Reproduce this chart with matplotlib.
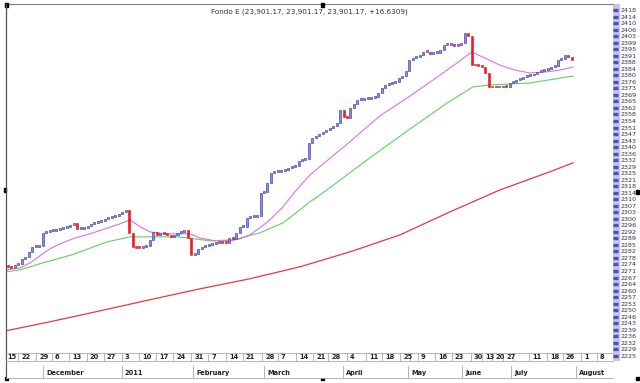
import matplotlib
matplotlib.use("Agg")
import matplotlib.pyplot as plt
from matplotlib.patches import Rectangle
import numpy as np

# ---- data (candle index = trading day) ----
first_open = 2275.2
closes = [
    2274.7, 2274.1, 2275.8, 2276.4, 2279.2, 2280.3, 2283.0, 2285.8, 2285.9, 2286.4,
    2293.6, 2294.2, 2294.7, 2294.9, 2295.3, 2295.9, 2296.4, 2297.0, 2298.1, 2299.2,
    2295.9, 2296.0, 2296.4, 2297.5, 2298.7, 2299.2, 2299.8, 2300.3, 2301.4, 2302.0,
    2302.6, 2303.1, 2304.2, 2305.3, 2306.5, 2293.6, 2285.8, 2285.3, 2285.2, 2285.8,
    2286.4, 2289.7, 2294.2, 2292.5, 2293.1, 2293.0, 2292.5, 2291.4, 2292.5, 2293.6,
    2294.2, 2295.3, 2290.8, 2281.4, 2281.9, 2284.7, 2285.8, 2286.4, 2287.0, 2287.5,
    2288.1, 2288.6, 2288.1, 2288.0, 2290.8, 2290.3, 2293.6, 2297.0, 2297.1, 2302.0,
    2302.6, 2302.7, 2303.1, 2315.9, 2316.5, 2321.5, 2327.1, 2327.7, 2327.8, 2328.2,
    2328.8, 2329.9, 2330.4, 2331.0, 2333.8, 2334.3, 2334.9, 2343.8, 2346.6, 2347.7,
    2348.9, 2350.0, 2351.1, 2352.2, 2353.3, 2355.0, 2362.2, 2358.3, 2357.8, 2363.4,
    2365.6, 2367.8, 2367.9, 2368.4, 2368.5, 2368.9, 2369.5, 2371.7, 2374.5, 2376.2,
    2376.7, 2377.3, 2377.9, 2380.1, 2381.2, 2384.0, 2390.1, 2391.2, 2391.8, 2392.9,
    2394.6, 2394.7, 2393.5, 2394.0, 2394.1, 2395.7, 2398.5, 2398.6, 2398.7, 2397.9,
    2398.5, 2399.6, 2405.2, 2403.5, 2387.3, 2387.2, 2386.8, 2386.2, 2382.9, 2375.1,
    2375.0, 2375.1, 2374.9, 2375.6, 2375.1, 2377.3, 2377.9, 2379.0, 2379.5, 2380.6,
    2381.2, 2381.7, 2382.3, 2383.4, 2384.0, 2384.5, 2385.1, 2386.2, 2386.8, 2390.1,
    2390.7, 2392.9, 2391.8, 2390.1,
]

# moving averages, sampled along the index axis
pink_x = [-0.5, 3.5, 6.4, 9.2, 12.1, 15.0, 19.4, 23.7, 28.0, 32.4, 35.3, 38.2, 41.0,
          45.4, 49.7, 52.6, 55.5, 59.8, 64.2, 67.1, 69.9, 72.8, 75.7, 79.5, 82.9,
          87.3, 93.9, 98.8, 103.8, 107.5, 116.2, 124.9, 130.6, 134.1, 137.9, 142.2,
          146.5, 150.9, 155.2, 159.5, 163.3]
pink_v = [2273.0, 2274.1, 2276.9, 2280.8, 2284.7, 2287.5, 2290.8, 2293.1, 2295.9,
          2298.7, 2300.9, 2297.0, 2294.2, 2293.1, 2293.1, 2293.1, 2290.8, 2289.2,
          2289.2, 2290.3, 2292.5, 2296.4, 2300.9, 2308.1, 2316.5, 2326.0, 2336.6,
          2344.4, 2352.8, 2358.9, 2370.0, 2381.7, 2389.6, 2394.6, 2391.2, 2387.3,
          2384.5, 2382.9, 2383.4, 2384.5, 2386.2]
green_x = [-0.5, 3.5, 9.2, 18.5, 28.6, 35.3, 41.0, 48.8, 52.0, 58.4, 65.0, 72.8,
           79.5, 87.3, 92.2, 104.6, 116.2, 126.9, 134.4, 139.3, 150.9, 163.3]
green_v = [2271.9, 2273.0, 2276.4, 2281.4, 2288.6, 2291.4, 2291.4, 2291.4, 2290.8,
           2289.2, 2289.7, 2293.6, 2299.2, 2310.9, 2317.6, 2335.5, 2351.6, 2366.1,
           2375.1, 2376.2, 2377.3, 2381.2]
red_x = [-0.5, 12.1, 26.6, 41.0, 55.5, 69.9, 84.4, 98.8, 113.3, 127.7, 142.2, 156.6, 163.3]
red_v = [2239.0, 2244.0, 2250.1, 2256.3, 2262.4, 2268.0, 2274.7, 2283.0, 2292.5,
         2305.3, 2317.6, 2327.7, 2332.7]

ytick_labels = ['2418', '2414', '2410', '2406', '2403', '2399', '2395', '2391', '2388',
                '2384', '2380', '2376', '2373', '2369', '2365', '2362', '2358', '2354',
                '2351', '2347', '2343', '2340', '2336', '2332', '2329', '2325', '2321',
                '2318', '2314', '2310', '2307', '2303', '2300', '2296', '2292', '2289',
                '2285', '2282', '2278', '2274', '2271', '2267', '2264', '2260', '2257',
                '2253', '2250', '2246', '2243', '2239', '2236', '2232', '2229', '2225']

day_pos = [-1.2, 2.9, 8.1, 12.7, 17.6, 22.8, 27.7, 32.9, 37.9, 42.8, 47.7, 52.9, 57.8,
           63.0, 67.9, 73.4, 78.0, 83.2, 88.2, 92.5, 98.0, 103.5, 108.1, 113.3, 116.2,
           118.5, 123.4, 128.3, 133.8, 137.0, 139.9, 143.1, 146.0, 150.6, 155.8, 160.4,
           165.6, 170.2, 174.8]
day_labels = ['15', '22', '29', '6', '13', '20', '27', '3', '10', '17', '24', '31', '7',
              '14', '21', '28', '7', '14', '21', '28', '4', '11', '18', '25', '',
              '9', '16', '23', '30', '13', '20', '27', '',
              '11', '18', '26', '1', '8', '']
month_pos = [10.1, 32.9, 53.5, 74.0, 96.8, 115.6, 131.2, 145.4, 164.2]
month_labels = ['December', '2011', 'February', 'March', 'April', 'May', 'June', 'July', 'August']

title = 'Fondo E (23,901.17, 23,901.17, 23,901.17, +16.6309)'

# ---- figure ----
W, H = 640, 383
fig = plt.figure(figsize=(W / 100, H / 100), dpi=100)
fig.patch.set_facecolor('white')


def box(l, t, r, b):
    return [l / W, 1 - b / H, (r - l) / W, (b - t) / H]


ax = fig.add_axes(box(6, 4, 613, 356))
x0, x1 = -0.58, 174.9
ax.set_xlim(x0, x1)
ax.set_ylim(2224.9, 2421.4)

closes = np.array(closes)
opens = np.concatenate([[first_open], closes[:-1]])
idx = np.arange(len(closes))
up = closes >= opens
body = np.maximum(np.abs(closes - opens), 0.9)
low = np.minimum(opens, closes)

ax.plot(red_x, red_v, color='#e8383c', lw=0.9, zorder=2)
ax.plot(green_x, green_v, color='#5cd45c', lw=0.8, zorder=2)
ax.plot(pink_x, pink_v, color='#e070dc', lw=0.8, zorder=2)

ax.bar(idx[up], body[up], bottom=low[up], width=0.58, color='#8c8ce0',
       edgecolor='#3c3ca8', linewidth=0.45, zorder=3)
ax.bar(idx[~up], body[~up], bottom=low[~up], width=0.58, color='#ec1c24',
       edgecolor='#e01018', linewidth=0.4, zorder=3)

ax.set_xticks([])
ax.yaxis.tick_right()
# labels sit on evenly spaced rows of the price scale
ax.set_yticks(np.linspace(2418, 2225, len(ytick_labels)))
ax.set_yticklabels(ytick_labels)
ax.tick_params(axis='y', direction='out', length=3.8, width=2.4, color='#5050b0',
               labelsize=4.6, labelcolor='#303048', pad=1.5)
for s in ['bottom', 'right']:
    ax.spines[s].set_visible(False)
ax.spines['left'].set_color('#505050')
ax.spines['top'].set_color('#808080')
ax.spines['top'].set_linewidth(0.8)
# pale band behind the tick column
fig.add_artist(Rectangle((613 / W, 1 - 360 / H), 5.5 / W, 356 / H,
                         color='#c4c4ec', transform=fig.transFigure, zorder=0))

fig.text(309 / W, 1 - 12 / H, title, fontsize=5.2, color='#303030',
         ha='center', va='center')

# date strip, day row
dax = fig.add_axes(box(6, 353, 613, 361), zorder=5)
dax.set_xlim(x0, x1)
dax.set_ylim(0, 1)
dax.set_xticks([])
dax.set_yticks([])
dax.spines['right'].set_visible(False)
for s in ['top', 'bottom']:
    dax.spines[s].set_color('#a8a8a8')
    dax.spines[s].set_linewidth(0.6)
dax.spines['left'].set_color('#505050')
for p, lab in zip(day_pos, day_labels):
    dax.axvline(p, color='#a8a8a8', lw=0.6)
    dax.text(p + 0.9, 0.45, lab, fontsize=4.8, fontweight='bold', color='#202020',
             ha='left', va='center', clip_on=True)

# month row
max_ = fig.add_axes(box(6, 366, 613, 378), zorder=5)
max_.set_xlim(x0, x1)
max_.set_ylim(0, 1)
max_.set_xticks([])
max_.set_yticks([])
for s in ['top', 'right']:
    max_.spines[s].set_visible(False)
max_.spines['bottom'].set_color('#a8a8a8')
max_.spines['bottom'].set_linewidth(0.6)
max_.spines['left'].set_color('#505050')
for p, lab in zip(month_pos, month_labels):
    max_.axvline(p, color='#a8a8a8', lw=0.6)
    max_.text(p + 0.9, 0.45, lab, fontsize=4.8, fontweight='bold', color='#202020',
              ha='left', va='center')

# left frame line between rows
fig.add_artist(plt.Line2D([6 / W, 6 / W], [1 - 378 / H, 1 - 4 / H], color='#505050',
                          lw=0.8, transform=fig.transFigure))

# selection handles
for hx, hy in [(6, 5), (322, 5), (5, 190), (637, 192), (6, 378), (322, 378), (637, 378)]:
    fig.add_artist(Rectangle(((hx - 1.5) / W, 1 - (hy + 1.5) / H), 3 / W, 3 / H,
                             color='black', transform=fig.transFigure))

fig.savefig('out.png', dpi=100)
